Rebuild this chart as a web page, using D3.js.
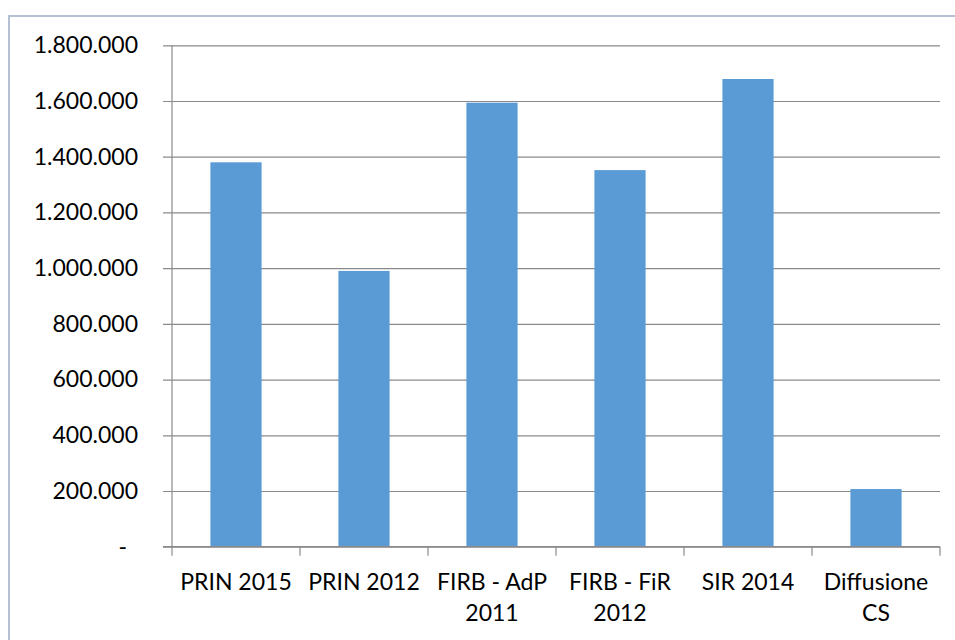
<!DOCTYPE html>
<html lang="it">
<head>
<meta charset="UTF-8">
<title>Finanziamenti</title>
<style>
  html, body { margin: 0; padding: 0; background: #fff; }
  svg text { font-family: Lato, "Open Sans", sans-serif; fill: #000; }
</style>
</head>
<body>
<div id="root"></div>
<script src="https://cdn.jsdelivr.net/npm/d3@7/dist/d3.min.js"></script>
<script>
// data
const categories = [["PRIN 2015"], ["PRIN 2012"], ["FIRB - AdP", "2011"], ["FIRB - FiR", "2012"], ["SIR 2014"], ["Diffusione", "CS"]]
const values = [1380000, 990000, 1594000, 1352000, 1679000, 207000]
const yTicks = [0, 200000, 400000, 600000, 800000, 1000000, 1200000, 1400000, 1600000, 1800000]

const W = 955, H = 640
const margin = {top: 45.3, left: 172, right: 15, bottom: 93.3}

const svg = d3.select("#root").append("svg")
  .attr("width", W)
  .attr("height", H)

// outer frame (only top/left visible in the crop)
svg.append("rect")
  .attr("x", 9).attr("y", 16)
  .attr("width", 1100).attr("height", 800)
  .attr("fill", "#fff")
  .attr("stroke", "#b4c0d3")
  .attr("stroke-width", 2)

const x = d3.scaleBand()
  .domain(categories.map(d => d.join(" ")))
  .range([margin.left, W - margin.right])
  .paddingInner(0.6)
  .paddingOuter(0.3)

const y = d3.scaleLinear()
  .domain([0, 1800000])
  .range([H - margin.bottom, margin.top])

const it = d3.formatLocale({decimal: ",", thousands: ".", grouping: [3], currency: ["€", ""]})
const fmt = it.format(",d")

// gridlines + y labels
const gridLen = W - margin.right - margin.left + 9
const yAxis = d3.axisLeft(y)
  .tickValues(yTicks)
  .tickSize(-gridLen)
  .tickFormat(d => d === 0 ? "-" : fmt(d))

const gy = svg.append("g")
  .attr("transform", `translate(${margin.left - 9},0)`)
  .call(yAxis)
gy.select(".domain").remove()
gy.selectAll(".tick line")
  .attr("x1", 0)
  .attr("x2", gridLen)
  .attr("stroke", "#8a8a8a")
  .attr("stroke-width", 1.2)
gy.selectAll(".tick text")
  .attr("x", -25)
  .attr("font-size", 23)
  .attr("dx", d => d === 0 ? -11 : 0)

// y axis line
svg.append("line")
  .attr("x1", margin.left).attr("x2", margin.left)
  .attr("y1", y(1800000)).attr("y2", y(0))
  .attr("stroke", "#8a8a8a").attr("stroke-width", 1.2)

// bars
svg.append("g").selectAll("rect")
  .data(values)
  .join("rect")
  .attr("x", (d, i) => x(categories[i].join(" ")))
  .attr("width", x.bandwidth())
  .attr("y", d => y(d))
  .attr("height", d => y(0) - y(d))
  .attr("fill", "#5b9bd5")

// x axis baseline + category boundary ticks
const step = x.step()
const bounds = d3.range(categories.length + 1).map(i => margin.left + i * step)
svg.append("line")
  .attr("x1", margin.left - 9).attr("x2", W - margin.right)
  .attr("y1", y(0)).attr("y2", y(0))
  .attr("stroke", "#8a8a8a").attr("stroke-width", 1.2)
svg.append("g").selectAll("line")
  .data(bounds)
  .join("line")
  .attr("x1", d => d).attr("x2", d => d)
  .attr("y1", y(0)).attr("y2", y(0) + 9)
  .attr("stroke", "#8a8a8a").attr("stroke-width", 1.2)

// category labels
const lbl = svg.append("g").selectAll("text")
  .data(categories)
  .join("text")
  .attr("x", d => x(d.join(" ")) + x.bandwidth() / 2)
  .attr("y", 590)
  .attr("text-anchor", "middle")
  .attr("font-size", 23)
lbl.selectAll("tspan")
  .data(d => d)
  .join("tspan")
  .attr("x", function () { return this.parentNode.getAttribute("x") })
  .attr("dy", (d, i) => i === 0 ? 0 : 31)
  .text(d => d)
</script>
</body>
</html>
